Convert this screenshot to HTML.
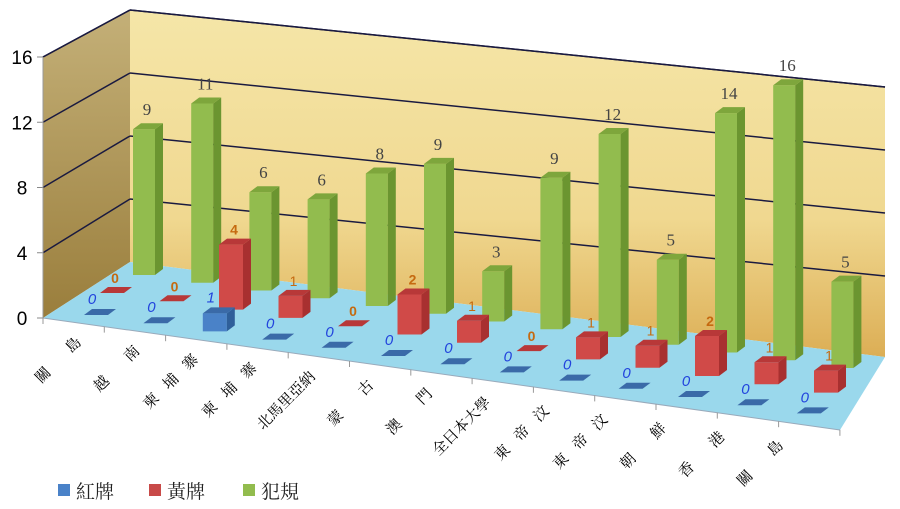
<!DOCTYPE html>
<html><head><meta charset="utf-8"><style>
body{margin:0;background:#fff;width:900px;height:509px;overflow:hidden}
svg{display:block}
text{font-family:"Liberation Serif","Noto Serif CJK SC",serif}
</style></head><body>
<svg id="s" width="900" height="509" viewBox="0 0 900 509" xmlns="http://www.w3.org/2000/svg">
<defs>
<linearGradient id="bw" x1="0" y1="0" x2="0" y2="1">
<stop offset="0" stop-color="#f5e6a8"/><stop offset="0.6" stop-color="#f0d890"/><stop offset="1" stop-color="#dcae55"/></linearGradient>
<linearGradient id="sw" x1="0" y1="0" x2="0" y2="1">
<stop offset="0" stop-color="#c4b078"/><stop offset="1" stop-color="#9a7e3c"/></linearGradient>
</defs>
<polygon points="130,10 885,87 885,357 130,262" fill="url(#bw)"/>
<polygon points="43,57 130,10 130,262 43,318" fill="url(#sw)"/>
<polygon points="43,318 130,262 885,357 840,430" fill="#9ad8ec"/>
<polyline points="43,318 840,430" stroke="#9ab" stroke-width="1" fill="none"/>
<g id="g"></g>
</svg>
<script>
var g=document.getElementById('g'),h='';
function P(pts,f){h+='<polygon points="'+pts.map(p=>p.join(',')).join(' ')+'" fill="'+f+'"/>';}
function T(x,y,t,c,sz,extra){h+='<text x="'+x+'" y="'+y+'" fill="'+c+'" font-size="'+sz+'" text-anchor="middle" '+(extra||'')+'>'+t+'</text>';}
for(var k=0;k<=4;k++){
 var yl=318-k*65.25, yb=262-k*63;
 if(k>0){h+='<line x1="43" y1="'+yl+'" x2="130" y2="'+yb+'" stroke="#1a1a40" stroke-width="1.5"/>';
 h+='<line x1="130" y1="'+yb+'" x2="885" y2="'+(yb+77)+'" stroke="#1a1a40" stroke-width="1.5"/>';}
 h+='<line x1="37" y1="'+yl+'" x2="43" y2="'+yl+'" stroke="#888"/>';
 h+='<text x="22" y="'+(yl+7)+'" font-size="19" text-anchor="middle" fill="#000" style="font-family:Liberation Sans,sans-serif">'+(k*4)+'</text>';
}
h+='<line x1="130" y1="10" x2="885" y2="87" stroke="#1a1a40" stroke-width="1.5"/>';
h+='<line x1="43" y1="57" x2="130" y2="10" stroke="#1a1a40" stroke-width="1.5"/>';
h+='<line x1="43" y1="57" x2="43" y2="318" stroke="#999"/>';
for(var i=0;i<=13;i++){var tx=43+i*61.3,ty=318+i*8.6;h+='<line x1="'+tx+'" y1="'+ty+'" x2="'+tx+'" y2="'+(ty+6)+'" stroke="#999"/>';}
function bar(x,base,w,ht,cf,cs,ct,dx,dy){
 var top=base-ht;
 if(ht>0){P([[x,top],[x+w,top],[x+w,base],[x,base]],cf);
 P([[x+w,top],[x+w+dx,top+dy],[x+w+dx,base+dy],[x+w,base]],cs);}
 P([[x,top],[x+dx,top+dy],[x+w+dx,top+dy],[x+w,top]],ct);
}
var G=[9,11,6,6,8,9,3,9,12,5,14,16,5],R=[0,0,4,1,0,2,1,0,1,1,2,1,1],B=[0,0,1,0,0,0,0,0,0,0,0,0,0];
var RH={0:0,1:22,2:40,4:65};
for(var i=0;i<13;i++){
 var x=133+i*58.2,base=275+i*7.75,s=16.2+i*0.09,ht=G[i]*s;
 bar(x,base,22,ht,'#92bc4e','#6b9530','#7ea63c',8,-6);
 T(x+14,base-ht-14,G[i],'#444',17);
}
for(var i=0;i<13;i++){
 var x=100+i*59.5,base=293+i*8.3,ht=RH[R[i]];
 bar(x,base,24,ht,'#d04a48','#a83030','#b83838',8,-6);
 T(x+15,base-ht-10,R[i],'#c56a10',14,R[i]==1?'font-size="13" style="font-family:Liberation Sans Narrow,sans-serif"':'style="font-family:Liberation Sans,sans-serif" font-weight="bold"');
}
for(var i=0;i<13;i++){
 var x=84+i*59.4,base=315+i*8.2,ht=B[i]*18;
 bar(x,base,24,ht,'#4a82c8','#2f5f9a','#3a6aa8',8,-6);
 T(x+8,base-ht-11,B[i],'#2244dd',15,'font-style="italic" style="font-family:Liberation Sans,sans-serif"');
}
var L=[['關','島'],['越','南'],['柬','埔','寨'],['柬','埔','寨'],['北馬里亞納'],['蒙','古'],['澳','門'],['全日本大學'],['東','帝','汶'],['東','帝','汶'],['朝','鮮'],['香','港'],['關','島']];
for(var i=0;i<13;i++){
 var ex=82+i*58.5,ey=343+i*8.6,parts=L[i];
 if(parts.length==1){
  h+='<text x="'+ex+'" y="'+ey+'" font-size="15" text-anchor="end" transform="rotate(-45 '+ex+' '+ey+')">'+parts[0]+'</text>';
 } else {
  var n=parts.length;
  for(var j=0;j<n;j++){var d=(n-1-j)*(n==2?42:27);var cx=ex-d*0.72,cy=ey+d*0.72;
   h+='<text x="'+cx+'" y="'+cy+'" font-size="15" text-anchor="end" transform="rotate(-45 '+cx+' '+cy+')">'+parts[j]+'</text>';}
 }
}
var lg=[[58,'#4a82c8','紅牌'],[149,'#c84a48','黃牌'],[243,'#92bc4e','犯規']];
lg.forEach(function(a){h+='<rect x="'+a[0]+'" y="484" width="12" height="12" fill="'+a[1]+'"/>';
 h+='<text x="'+(a[0]+18)+'" y="498" font-size="19" fill="#222">'+a[2]+'</text>';});
g.innerHTML=h;
</script>
</body></html>
